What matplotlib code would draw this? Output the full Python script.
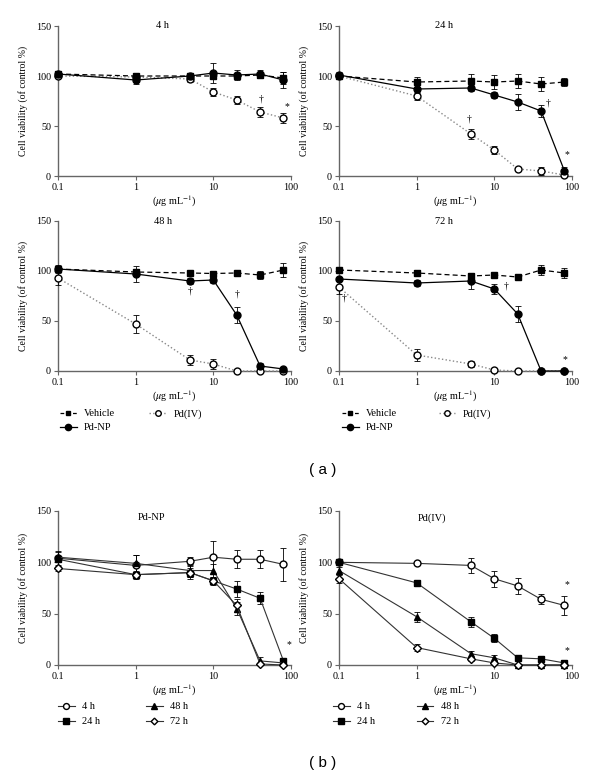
import matplotlib
matplotlib.use("Agg")
import matplotlib.pyplot as plt
from matplotlib.lines import Line2D

plt.rcParams['font.family'] = ['Liberation Serif', 'DejaVu Serif']
plt.rcParams['mathtext.fontset'] = 'stix'

conc = [0.1, 1, 5, 10, 20, 40, 80]

# (a) time panels: vehicle, Pd-NP, Pd(IV)
veh_4 = [102, 100, 100, 100, 100, 101, 98]
veh_4_err = [3, 3, 2, 3, 3, 3, 6]
np_4 = [102, 96, 100, 103, 101, 102, 96]
np_4_err = [3, 4, 2, 10, 5, 4, 8]
iv_4 = [100, 99, 97, 84, 76, 64, 58]
iv_4_err = [2, 2, 3, 4, 4, 5, 5]

veh_24 = [100, 94, 95, 94, 95, 92, 94]
veh_24_err = [2, 5, 7, 7, 7, 7, 4]
np_24 = [101, 87, 88, 81, 74, 65, 5]
np_24_err = [3, 4, 3, 3, 8, 6, 4]
iv_24 = [100, 80, 42, 26, 7, 5, 1]
iv_24_err = [3, 4, 5, 4, 2, 4, 2]

veh_48 = [102, 99, 98, 97.5, 98, 96, 101]
veh_48_err = [3, 3, 2, 2, 2, 4, 7]
np_48 = [102, 97, 90, 91, 56, 5, 2]
np_48_err = [4, 8, 3, 3, 8, 3, 2]
iv_48 = [93, 47, 11, 7, 0, 0, 0]
iv_48_err = [7, 9, 5, 5, 0, 0, 0]

veh_72 = [101, 98, 95, 96, 94, 101, 98]
veh_72_err = [2, 3, 3, 2, 2, 5, 5]
np_72 = [92, 88, 90, 82, 57, 0, 0]
np_72_err = [2, 3, 8, 5, 8, 1, 1]
iv_72 = [84, 16, 7, 1, 0, 0, 0]
iv_72_err = [7, 6, 3, 1, 0, 0, 0]

# (b) Pd-NP and Pd(IV) over time
bnp_4 = [104, 97, 101, 105, 103, 103, 98]
bnp_4_err = [7, 10, 4, 16, 9, 9, 16]
bnp_24 = [103, 88, 90, 82, 74, 65, 4]
bnp_24_err = [3, 4, 4, 3, 8, 6, 3]
bnp_48 = [105, 99, 92, 92, 55, 4, 2]
bnp_48_err = [5, 8, 6, 6, 6, 4, 1]
bnp_72 = [94, 88, 90, 82, 58, 1, 0]
bnp_72_err = [2, 3, 6, 4, 6, 1, 0]

biv_4 = [100, 99, 97, 84, 77, 64, 58]
biv_4_err = [2, 1, 7, 8, 8, 5, 9]
biv_24 = [100, 80, 42, 26, 7, 6, 2]
biv_24_err = [2, 3, 5, 4, 1, 3, 1]
biv_48 = [92, 47, 11, 7, 0, 0, 0]
biv_48_err = [3, 5, 3, 3, 0, 0, 0]
biv_72 = [84, 17, 6, 2, 0, 0, 0]
biv_72_err = [4, 3, 2, 1, 0, 0, 0]

# significance marks (x, y, symbol)
marks_4 = [(40.7, 77, '†'), (88, 69, '*')]
marks_24 = [(4.7, 57, '†'), (48.7, 72.7, '†'), (85, 21, '*')]
marks_48 = [(5, 80, '†'), (20.5, 76.5, '†')]
marks_72 = [(0.117, 72.5, '†'), (14.2, 85, '†'), (81, 11, '*')]
marks_bnp = [(95, 20, '*')]
marks_biv = [(86, 78, '*'), (86, 13.6, '*')]

W, H = 600, 778
fig = plt.figure(figsize=(6, 7.78), dpi=100)


def make_axes(left, top, width, height):
    ax = fig.add_axes([left / W, 1 - (top + height) / H, width / W, height / H])
    ax.set_xscale('log')
    ax.set_xlim(0.1, 100)
    ax.set_ylim(0, 150)
    ax.set_xticks([0.1, 1, 10, 100])
    ax.set_xticklabels(['0.1', '1', '10', '100'])
    ax.minorticks_off()
    ax.set_yticks([0, 50, 100, 150])
    for s in ['top', 'right']:
        ax.spines[s].set_visible(False)
    for s in ['left', 'bottom']:
        ax.spines[s].set_color('#666666')
        ax.spines[s].set_linewidth(1.0)
    ax.tick_params(length=3, width=0.8, color='#666666', labelsize=7.3, pad=2)
    ax.set_ylabel('Cell viability (of control %)', fontsize=7, labelpad=6)
    ax.set_xlabel(r'($\mu$g mL$^{-1}$)', fontsize=7.3, labelpad=1.5)
    return ax


def series(ax, y, err, fmt, ls, color='black', mfc='black', ms=4.5, lw=0.9):
    ax.errorbar(conc, y, yerr=err, fmt=fmt, ls=ls, color=color, mfc=mfc,
                mec='black', ms=ms, lw=lw, ecolor='black', elinewidth=0.6,
                capsize=2, capthick=0.6, clip_on=False, zorder=3)


def marks(ax, lst):
    for x, y, s in lst:
        ax.text(x, y, s, fontsize=7, ha='center', va='center')


time_panels = [
    (58, 26, '4 h', veh_4, veh_4_err, np_4, np_4_err, iv_4, iv_4_err, marks_4),
    (339, 26, '24 h', veh_24, veh_24_err, np_24, np_24_err, iv_24, iv_24_err, marks_24),
    (58, 221, '48 h', veh_48, veh_48_err, np_48, np_48_err, iv_48, iv_48_err, marks_48),
    (339, 221, '72 h', veh_72, veh_72_err, np_72, np_72_err, iv_72, iv_72_err, marks_72),
]

for left, top, title, veh, veh_e, npv, np_e, iv, iv_e, mk in time_panels:
    ax = make_axes(left, top, 233, 150)
    series(ax, iv, iv_e, 'o', ':', color='#888888', mfc='white', ms=5, lw=1.0)
    series(ax, veh, veh_e, 's', (0, (4, 2.5)), ms=4)
    series(ax, npv, np_e, 'o', '-', ms=5)
    ax.text(0.45, 1.0, title, transform=ax.transAxes, fontsize=7.5,
            ha='center', va='center')
    marks(ax, mk)

b_panels = [
    (58, 'Pd-NP', [bnp_4, bnp_24, bnp_48, bnp_72],
     [bnp_4_err, bnp_24_err, bnp_48_err, bnp_72_err], marks_bnp),
    (339, 'Pd(IV)', [biv_4, biv_24, biv_48, biv_72],
     [biv_4_err, biv_24_err, biv_48_err, biv_72_err], marks_biv),
]
b_styles = [('o', 'white', 5), ('s', 'black', 4.5), ('^', 'black', 5), ('D', 'white', 4)]

for left, title, ys, errs, mk in b_panels:
    ax = make_axes(left, 511, 233, 154)
    for y, e, (m, fc, ms) in zip(ys, errs, b_styles):
        series(ax, y, e, m, '-', color='#333333', mfc=fc, ms=ms, lw=0.8)
    ax.text(0.40, 0.955, title, transform=ax.transAxes, fontsize=7.5,
            ha='center', va='center')
    marks(ax, mk)

# legends
h_veh = Line2D([], [], color='black', ls=(0, (3, 2)), marker='s', ms=3.5, lw=0.9)
h_np = Line2D([], [], color='black', ls='-', marker='o', ms=4.5, lw=0.9)
h_iv = Line2D([], [], color='#888888', ls=':', marker='o', mfc='white', mec='black', ms=4, lw=1.0)
for x0, cs in [(60, 3.3), (342, 4.0)]:
    fig.legend([h_veh, h_np, h_iv], ['Vehicle', 'Pd-NP', 'Pd(IV)'], ncol=2,
               loc='upper left', bbox_to_anchor=(x0 / W, 1 - 409 / H),
               frameon=False, fontsize=7.5, borderpad=0, borderaxespad=0,
               handlelength=1.6, handletextpad=0.7, labelspacing=0.45,
               columnspacing=cs)

hb = [Line2D([], [], color='#333333', marker=m, mfc=fc, mec='black', ms=ms * 0.85, lw=0.8)
      for m, fc, ms in b_styles]
for x0, cs in [(58, 4.4), (333, 4.0)]:
    fig.legend(hb, ['4 h', '24 h', '48 h', '72 h'], ncol=2,
               loc='upper left', bbox_to_anchor=(x0 / W, 1 - 702 / H),
               frameon=False, fontsize=7.5, borderpad=0, borderaxespad=0,
               handlelength=1.6, handletextpad=0.7, labelspacing=0.55,
               columnspacing=cs)

fig.text(323 / W, 1 - 470 / H, '( a )', fontsize=11, family='Liberation Sans',
         ha='center', va='center')
fig.text(323 / W, 1 - 763 / H, '( b )', fontsize=11, family='Liberation Sans',
         ha='center', va='center')

fig.savefig('out.png', dpi=100)
